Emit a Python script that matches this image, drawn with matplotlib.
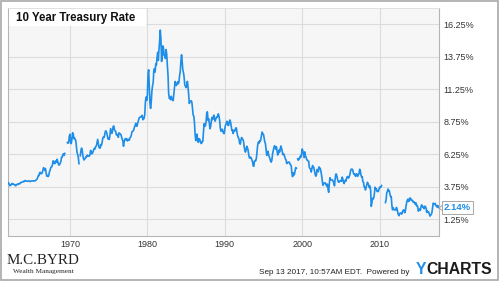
import numpy as np
import matplotlib
matplotlib.use('Agg')
import matplotlib.pyplot as plt
from matplotlib.patches import Rectangle, Polygon

# 10 year treasury rate, monthly, Jan 1962 - Sep 2017 (None = gap in the chart)
start_year = 1962
rates_1960s = [
    4.08, 4.04, 3.93, 3.84, 3.87, 3.91, 4.01, 3.98, 3.98, 3.93, 3.92, 3.86,
    3.83, 3.92, 3.93, 3.97, 3.93, 3.99, 4.02, 4.00, 4.08, 4.11, 4.12, 4.13,
    4.17, 4.15, 4.22, 4.23, 4.20, 4.17, 4.19, 4.19, 4.20, 4.19, 4.15, 4.18,
    4.19, 4.21, 4.21, 4.20, 4.21, 4.21, 4.20, 4.25, 4.29, 4.35, 4.45, 4.62,
    4.61, 4.83, 4.87, 4.75, 4.78, 4.81, 5.02, 5.22, 5.18, 5.01, 5.16, 4.84,
    4.58, 4.63, 4.54, 4.59, 4.85, 5.02, 5.16, 5.28, 5.30, 5.48, 5.75, 5.70,
    5.53, 5.56, 5.74, 5.64, 5.87, 5.72, 5.50, 5.42, 5.46, 5.58, 5.70, 6.03,
    6.04, 6.19, 6.30, 6.17, 6.32, None, None, None, 7.16, 7.10, 7.14, 7.65,
]
rates_1970s = [
    7.79, 7.24, 7.07, 7.39, 7.91, 7.84, 7.46, 7.53, 7.39, 7.33, 6.84, 6.39,
    6.24, 6.00, 5.53, None, 6.14, 6.52, 6.73, 6.58, 6.14, 5.93, 5.81, 5.93,
    5.95, 6.08, 6.07, 6.19, 6.13, 6.11, 6.11, 6.21, 6.55, 6.48, 6.28, 6.36,
    6.46, 6.64, 6.71, 6.67, 6.85, 6.90, 7.13, 7.40, 7.09, 6.79, 6.73, 6.74,
    6.99, 6.96, 7.21, 7.51, 7.58, 7.54, 7.81, 8.04, 8.04, 7.90, 7.68, 7.43,
    7.50, 7.39, 7.73, 8.23, 8.06, 7.86, 8.06, 8.40, 8.43, 8.14, 8.05, 8.00,
    7.74, 7.79, 7.73, 7.56, 7.90, 7.86, 7.83, 7.77, 7.59, 7.41, 7.29, 6.87,
    7.21, 7.39, 7.46, 7.37, 7.46, 7.28, 7.33, 7.40, 7.34, 7.52, 7.58, 7.69,
    7.96, 8.03, 8.04, 8.15, 8.35, 8.46, 8.64, 8.41, 8.42, 8.64, 8.81, 9.01,
    9.10, 9.10, 9.12, 9.18, 9.25, 8.91, 8.95, 9.03, 9.33, 10.30, 10.65, 10.39,
]
rates_1980s = [
    10.80, 12.41, 12.75, 11.47, 10.18, 9.78, 10.25, 11.10, 11.51, 11.75, 12.68, 12.84,
    12.57, 13.19, 13.12, 13.68, 14.10, 13.47, 14.28, 14.94, 15.80, 15.15, 13.39, 13.72,
    14.59, 14.43, 13.86, 13.87, 13.62, 14.30, 13.95, 13.06, 12.34, 10.91, 10.55, 10.54,
    10.46, 10.72, 10.51, 10.40, 10.38, 10.85, 11.38, 11.85, 11.65, 11.54, 11.69, 11.83,
    11.67, 11.84, 12.32, 12.63, 13.41, 13.90, 13.36, 12.72, 12.52, 12.16, 11.57, 11.50,
    11.38, 11.51, 11.86, 11.43, 10.85, 10.16, 10.31, 10.33, 10.37, 10.24, 9.78, 9.26,
    9.19, 8.70, 7.78, 7.30, 7.71, 7.80, 7.30, 7.17, 7.45, 7.43, 7.25, 7.11,
    7.08, 7.25, 7.25, 8.02, 8.61, 8.40, 8.45, 8.76, 9.42, 9.52, 8.86, 8.99,
    8.67, 8.21, 8.37, 8.72, 9.09, 8.92, 9.06, 9.26, 8.98, 8.80, 8.96, 9.11,
    9.09, 9.17, 9.36, 9.18, 8.86, 8.28, 8.02, 8.11, 8.19, 8.01, 7.87, 7.84,
]
rates_1990s = [
    8.21, 8.47, 8.59, 8.79, 8.76, 8.48, 8.47, 8.75, 8.89, 8.72, 8.39, 8.08,
    8.09, 7.85, 8.11, 8.04, 8.07, 8.28, 8.27, 7.90, 7.65, 7.53, 7.42, 7.09,
    7.03, 7.34, 7.54, 7.48, 7.39, 7.26, 6.84, 6.59, 6.42, 6.59, 6.87, 6.77,
    6.60, 6.26, 5.98, 5.97, 6.04, 5.96, 5.81, 5.68, 5.36, 5.33, 5.72, 5.77,
    5.75, 5.97, 6.48, 6.97, 7.18, 7.10, 7.30, 7.24, 7.46, 7.74, 7.96, 7.81,
    7.78, 7.47, 7.20, 7.06, 6.63, 6.17, 6.28, 6.49, 6.20, 6.04, 5.93, 5.71,
    5.65, 5.81, 6.27, 6.51, 6.74, 6.91, 6.87, 6.64, 6.83, 6.53, 6.20, 6.30,
    6.58, 6.42, 6.69, 6.89, 6.71, 6.49, 6.22, 6.30, 6.21, 6.03, 5.88, 5.81,
    5.54, 5.57, 5.65, 5.64, 5.65, 5.50, 5.46, 5.34, 4.81, 4.53, 4.83, 4.65,
    4.72, 5.00, 5.23, 5.18, None, 5.90, 5.79, 5.94, 5.92, 6.11, 6.03, 6.28,
]
rates_2000s = [
    6.66, 6.52, 6.26, 5.99, 6.44, 6.10, 6.05, 5.83, 5.80, 5.74, 5.72, 5.24,
    5.16, 5.10, 4.89, 5.14, 5.39, 5.28, 5.24, 4.97, 4.73, 4.57, 4.65, 5.09,
    5.04, 4.91, 5.28, 5.21, 5.16, 4.93, 4.65, 4.26, 3.87, 3.94, 4.05, 4.03,
    4.05, 3.90, 3.81, 3.96, 3.57, 3.33, 3.98, 4.45, 4.27, 4.29, 4.30, 4.27,
    4.15, 4.08, 3.83, 4.35, 4.72, 4.73, 4.50, 4.28, 4.13, 4.10, 4.19, 4.23,
    4.22, 4.17, 4.50, 4.34, 4.14, 4.00, 4.18, 4.26, 4.20, 4.46, 4.54, 4.47,
    4.42, 4.57, 4.72, 4.99, 5.11, 5.11, 5.09, 4.88, 4.72, 4.73, 4.60, 4.56,
    4.76, 4.72, 4.56, 4.69, 4.75, 5.10, 5.00, 4.67, 4.52, 4.53, 4.15, 4.10,
    3.74, 3.74, 3.51, 3.68, 3.88, 4.10, 4.01, 3.89, 3.69, 3.81, 3.53, 2.25,
    2.52, 2.87, 2.82, 2.93, 3.29, 3.72, 3.56, 3.59, 3.40, 3.39, 3.40, 3.59,
]
rates_2010s = [
    3.73, 3.69, 3.73, 3.85, None, None, None, None, None, 2.54, 2.76, 3.29,
    3.39, 3.58, 3.41, 3.46, 3.17, 3.00, 3.00, 2.30, 1.98, 2.15, 2.01, 1.98,
    1.97, 1.97, 2.17, 2.05, 1.80, 1.62, 1.53, 1.68, 1.72, 1.75, 1.65, 1.72,
    1.91, 1.98, 1.96, 1.76, 1.93, 2.30, 2.58, 2.74, 2.81, 2.62, 2.72, 2.90,
    2.86, 2.71, 2.72, 2.71, 2.56, 2.60, 2.54, 2.42, 2.53, 2.30, 2.33, 2.21,
    1.88, 1.98, 2.04, 1.94, 2.20, 2.36, 2.32, 2.17, 2.17, 2.07, 2.26, 2.24,
    2.09, 1.78, 1.89, 1.81, 1.81, 1.64, 1.50, 1.56, 1.63, 1.76, 2.14, 2.49,
    2.43, 2.42, 2.48, 2.30, 2.30, 2.19, 2.32, 2.21, 2.14,
]

y_ticks = [1.25, 3.75, 6.25, 8.75, 11.25, 13.75, 16.25]
x_ticks = [1970, 1980, 1990, 2000, 2010]
last_value = 2.14

rates = np.array(rates_1960s + rates_1970s + rates_1980s + rates_1990s
                 + rates_2000s + rates_2010s, dtype=float)
dates = start_year + np.arange(len(rates)) / 12.0

W, H = 501, 282
fig = plt.figure(figsize=(W / 100, H / 100), dpi=100)
fig.patch.set_facecolor('white')


def fx(px):
    return px / W


def fy(py):
    return 1 - py / H


# plot area in pixels: x 8..439, y 8..236
ax = fig.add_axes([fx(8), fy(236), fx(439 - 8), (236 - 8) / H])
ax.set_facecolor('#f6f6f6')
ax.plot(dates, rates, color='#1e8ee8', lw=1.2, zorder=3)

ax.set_xlim(start_year, dates[-1])
ax.set_ylim(-0.03, 17.5)
ax.set_xticks(x_ticks)
ax.set_xticklabels([str(t) for t in x_ticks])
ax.set_yticks(y_ticks)
ax.set_yticklabels([f'{t:.2f}%' for t in y_ticks])
ax.yaxis.tick_right()
ax.grid(True, color='#dcdcdc', lw=0.8, zorder=0)
ax.tick_params(length=0, labelsize=6.5, labelcolor='#333333', pad=3)
for lbl in ax.get_xticklabels() + ax.get_yticklabels():
    lbl.set_fontfamily('Liberation Sans')
for side in ['left', 'bottom', 'right']:
    ax.spines[side].set_color('#b5b5b5')
    ax.spines[side].set_linewidth(0.8)
ax.spines['top'].set_color('#dddddd')
ax.spines['top'].set_linewidth(0.6)

# title box
fig.add_artist(Rectangle((fx(8.5), fy(26)), fx(146 - 8.5), (26 - 8.5) / H,
                         transform=fig.transFigure, facecolor='white',
                         edgecolor='none', zorder=5))
fig.text(fx(16), fy(17.5), '10 Year Treasury Rate', fontsize=8.3, fontweight='bold',
         family='Liberation Sans', color='#111111', va='center', ha='left', zorder=6)

# last value callout
fig.add_artist(Polygon([[fx(439), fy(208)], [fx(444), fy(204)], [fx(444), fy(212)]],
                       closed=True, transform=fig.transFigure, facecolor='white',
                       edgecolor='#9a9a9a', lw=0.6, zorder=6))
fig.text(fx(457.5), fy(207.5), f'{last_value:.2f}%', fontsize=6.8, fontweight='bold',
         family='Liberation Sans', color='#1e8ee8', va='center', ha='center', zorder=7,
         bbox=dict(boxstyle='square,pad=0.22', facecolor='white', edgecolor='#9a9a9a', lw=0.6))

# footer
fig.text(fx(259), fy(272), 'Sep 13 2017, 10:57AM EDT.  Powered by', fontsize=5.85,
         family='Liberation Sans', color='#222222', va='center', ha='left')
fig.text(fx(416), fy(269), 'Y', fontsize=11.3, fontweight='bold',
         family='Liberation Sans', color='#1e8ee8', va='center', ha='left')
fig.text(fx(426), fy(269), 'CHARTS', fontsize=11.3, fontweight='bold',
         family='Liberation Sans', color='#1b1b1b', va='center', ha='left')

fig.text(fx(7), fy(261), 'M.C.BYRD', fontsize=10.8, family='Liberation Serif',
         color='#222222', va='center', ha='left')
fig.text(fx(13), fy(271.5), 'Wealth Management', fontsize=5.2, family='Liberation Serif',
         color='#222222', va='center', ha='left')

# outer frame
fig.add_artist(Rectangle((fx(1), fy(280)), fx(498 - 1), (280 - 1) / H,
                         transform=fig.transFigure, facecolor='none',
                         edgecolor='#a8a8a8', lw=1.2, zorder=10))

fig.savefig('out.png', dpi=100)
